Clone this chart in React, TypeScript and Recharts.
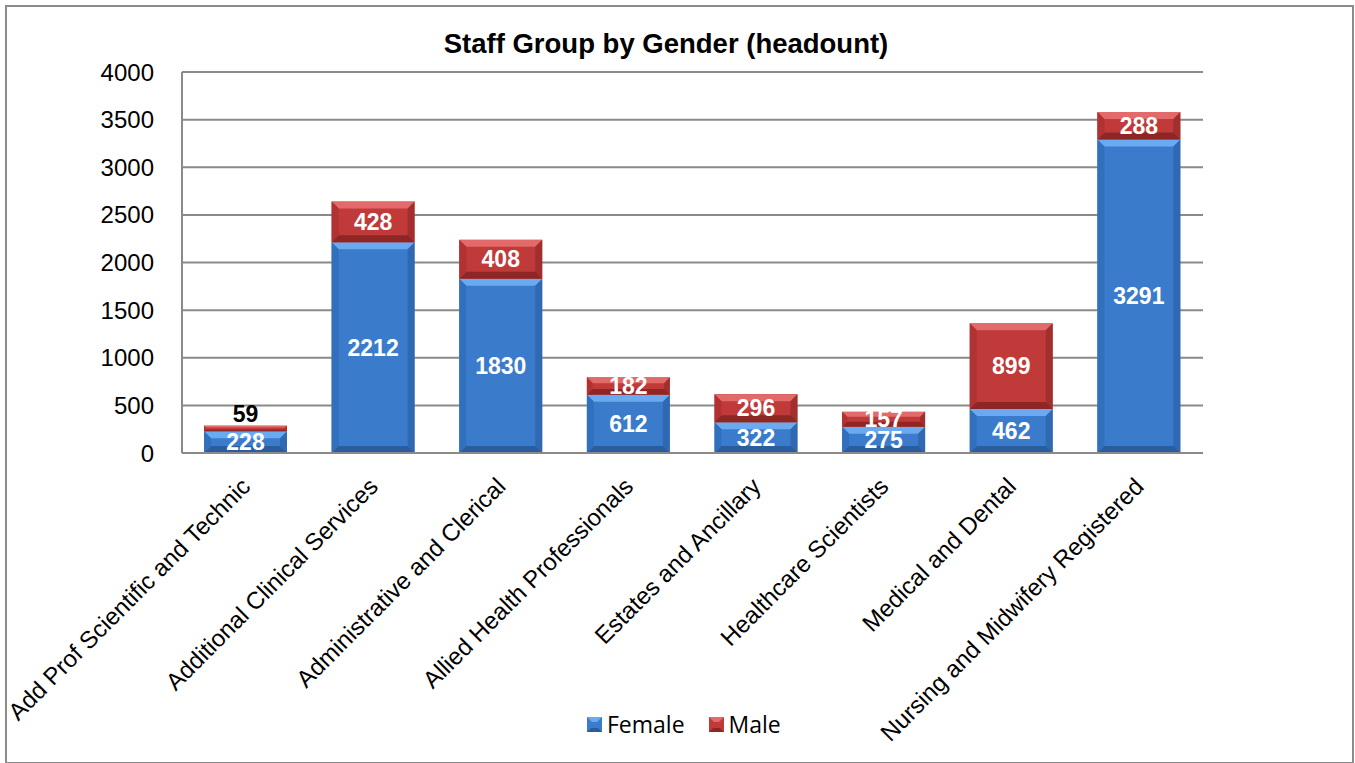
import { BarChart, Bar, XAxis, YAxis, CartesianGrid, LabelList } from "recharts";

const categories = [
  "Add Prof Scientific and Technic",
  "Additional Clinical Services",
  "Administrative and Clerical",
  "Allied Health Professionals",
  "Estates and Ancillary",
  "Healthcare Scientists",
  "Medical and Dental",
  "Nursing and Midwifery Registered",
];
const female = [228, 2212, 1830, 612, 322, 275, 462, 3291];
const male = [59, 428, 408, 182, 296, 157, 899, 288];
const yTicks = [0, 500, 1000, 1500, 2000, 2500, 3000, 3500, 4000];

const data = categories.map((name, i) => ({ name, female: female[i], male: male[i] }));

const palette = {
  female: { main: "#3b7bcc", top: "#6aaaf0", bottom: "#2a5c9e", side: "#3270bd" },
  male: { main: "#c03a3a", top: "#e26a6a", bottom: "#8e2626", side: "#b03232" },
};

function bevelShape(kind: "female" | "male") {
  const c = palette[kind];
  return (props: any) => {
    const { x, y, width, height } = props;
    if (!height || height <= 0) return <g />;
    const b = Math.min(7, height / 3);
    return (
      <g>
        <rect x={x} y={y} width={width} height={height} fill={c.main} />
        <polygon points={`${x},${y} ${x + width},${y} ${x + width - b},${y + b} ${x + b},${y + b}`} fill={c.top} />
        <polygon
          points={`${x},${y + height} ${x + width},${y + height} ${x + width - b},${y + height - b} ${x + b},${y + height - b}`}
          fill={c.bottom}
        />
        <polygon points={`${x},${y} ${x + b},${y + b} ${x + b},${y + height - b} ${x},${y + height}`} fill={c.side} />
        <polygon
          points={`${x + width},${y} ${x + width - b},${y + b} ${x + width - b},${y + height - b} ${x + width},${y + height}`}
          fill={c.bottom}
          opacity={0.6}
        />
      </g>
    );
  };
}

const CatTick = (props: any) => {
  const { x, y, payload } = props;
  const ax = x + 6;
  const ay = y + 27;
  return (
    <text
      x={ax}
      y={ay}
      transform={`rotate(-45, ${ax}, ${ay})`}
      textAnchor="end"
      fontFamily="'Liberation Sans', Arial, sans-serif"
      fontSize={24}
      fill="#000"
    >
      {payload.value}
    </text>
  );
};

const segLabel = (dark: boolean) => (props: any) => {
  const { x, y, width, height, value, index } = props;
  const outside = dark && index === 0;
  const cy = outside ? y - 12 : y + height / 2;
  return (
    <text
      x={x + width / 2}
      y={cy}
      dy={8}
      textAnchor="middle"
      fontFamily="'Liberation Sans', Arial, sans-serif"
      fontWeight="bold"
      fontSize={23}
      fill={outside ? "#000" : "#fff"}
    >
      {value}
    </text>
  );
};

const LegendSwatch = ({ kind }: { kind: "female" | "male" }) => {
  const c = palette[kind];
  return (
    <svg width={15} height={15} style={{ marginRight: 5 }}>
      <rect x={0} y={0} width={15} height={15} fill={c.main} />
      <polygon points="0,0 15,0 10,5 5,5" fill={c.top} />
      <polygon points="0,15 15,15 11,11 4,11" fill={c.bottom} />
    </svg>
  );
};

export default function App() {
  return (
    <div
      style={{
        position: "absolute",
        left: 5,
        top: 5,
        width: 1345,
        height: 755,
        border: "2px solid #8c8c8c",
        background: "#fff",
      }}
    >
      <div
        style={{
          position: "absolute",
          top: 21,
          left: -16,
          width: 1350,
          textAlign: "center",
          fontFamily: "'Liberation Sans', Arial, sans-serif",
          fontWeight: "bold",
          fontSize: 27.5,
        }}
      >
        Staff Group by Gender (headount)
      </div>
      <BarChart
        width={1345}
        height={755}
        data={data}
        margin={{ top: 65, right: 149, left: 95, bottom: 9 }}
        style={{ overflow: "visible" }}
      >
        <CartesianGrid vertical={false} stroke="#8a8a8a" strokeWidth={2} />
        <XAxis
          dataKey="name"
          interval={0}
          height={300}
          tick={<CatTick />}
          tickLine={false}
          axisLine={{ stroke: "#8a8a8a", strokeWidth: 2 }}
        />
        <YAxis
          width={80}
          domain={[0, 4000]}
          ticks={yTicks}
          tickLine={false}
          axisLine={{ stroke: "#8a8a8a", strokeWidth: 2 }}
          tick={{ fontFamily: "'Liberation Sans', Arial, sans-serif", fontSize: 24, fill: "#000" }}
          tickMargin={22}
        />
        <Bar dataKey="female" stackId="a" barSize={83} shape={bevelShape("female")} isAnimationActive={false}>
          <LabelList dataKey="female" content={segLabel(false)} />
        </Bar>
        <Bar dataKey="male" stackId="a" barSize={83} shape={bevelShape("male")} isAnimationActive={false}>
          <LabelList dataKey="male" content={segLabel(true)} />
        </Bar>
      </BarChart>
      <div
        style={{
          position: "absolute",
          top: 701,
          left: 580,
          display: "flex",
          alignItems: "center",
          fontFamily: "'Open Sans', sans-serif",
          fontSize: 23,
        }}
      >
        <LegendSwatch kind="female" />
        <span style={{ marginRight: 24 }}>Female</span>
        <LegendSwatch kind="male" />
        <span>Male</span>
      </div>
    </div>
  );
}
